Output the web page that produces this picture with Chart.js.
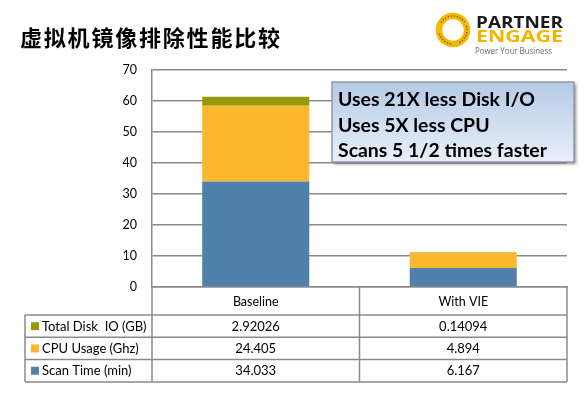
<!DOCTYPE html>
<html>
<head>
<meta charset="utf-8">
<script src="https://cdn.jsdelivr.net/npm/chart.js@4.4.1/dist/chart.umd.min.js"></script>
<style>
  html, body { margin: 0; padding: 0; background: #fff; }
  #wrap { width: 585px; height: 396px; position: relative; }
</style>
</head>
<body>
<div id="wrap"><canvas id="grafico" width="585" height="396"></canvas></div>
<script>
// dados do gráfico
const categorias = ['Baseline', 'With VIE'];
const scanTime = [34.033, 6.167];
const cpuUsage = [24.405, 4.894];
const diskIO = [2.92026, 0.14094];
const nomesSeries = ['Scan Time (min)', 'CPU Usage (Ghz)', 'Total Disk  IO (GB)'];
const coresSeries = ['#5081ab', '#fbb72e', '#979a08'];
const yMax = 70;
const yPasso = 10;
const titulo = '虚拟机镜像排除性能比较';
const notas = ['Uses 21X less Disk I/O', 'Uses 5X less CPU', 'Scans 5 1/2 times faster'];

const corLinha = '#8a8a8a';
const fonteLatina = 'Lato, "Open Sans", sans-serif';

// desenha título, logo, caixa de texto e tabela de dados
const extras = {
    id: 'extras',
    afterDraw(chart) {
        const ctx = chart.ctx;
        const area = chart.chartArea;
        const xs = chart.scales.x;

        // título
        ctx.save();
        ctx.fillStyle = '#000';
        ctx.font = 'bold 22px "Noto Sans CJK SC"';
        ctx.textBaseline = 'middle';
        ctx.textAlign = 'left';
        [...titulo].forEach((c, i) => ctx.fillText(c, 20 + i * 23.8, 38));
        ctx.restore();

        // logo
        ctx.save();
        ctx.strokeStyle = '#f5b800';
        ctx.lineWidth = 6.5;
        ctx.beginPath();
        ctx.arc(453, 30, 14, 0, Math.PI * 2);
        ctx.stroke();
        ctx.strokeStyle = '#6b5400';
        ctx.lineWidth = 1.2;
        ctx.setLineDash([1.5, 1.5]);
        [[-2.6, -0.6], [-0.3, 1.2], [1.7, 2.9]].forEach(([a, b]) => {
            ctx.beginPath();
            ctx.arc(453, 30, 14, a, b);
            ctx.stroke();
        });
        ctx.setLineDash([]);
        const ajusta = (txt, x, y, w, font, cor) => {
            ctx.font = font;
            ctx.fillStyle = cor;
            const m = ctx.measureText(txt).width;
            ctx.save();
            ctx.translate(x, y);
            ctx.scale(w / m, 1);
            ctx.fillText(txt, 0, 0);
            ctx.restore();
        };
        ctx.textBaseline = 'alphabetic';
        ctx.textAlign = 'left';
        ajusta('PARTNER', 476, 27.5, 87, 'bold 15.5px "Open Sans"', '#1a1a1a');
        ajusta('ENGAGE', 476, 42, 87, 'bold 15.5px "Open Sans"', '#f5b400');
        ajusta('Power Your Business', 475, 54, 77, '9px "Open Sans"', '#6e6e6e');
        ctx.restore();

        // caixa de texto
        const bx = 332, by = 82, bw = 242, bh = 80;
        ctx.save();
        ctx.shadowColor = 'rgba(0,0,0,0.45)';
        ctx.shadowOffsetX = 2;
        ctx.shadowOffsetY = 2;
        ctx.shadowBlur = 3;
        const grad = ctx.createLinearGradient(0, by, 0, by + bh);
        grad.addColorStop(0, '#b5cae6');
        grad.addColorStop(1, '#e8eff9');
        ctx.fillStyle = grad;
        ctx.fillRect(bx, by, bw, bh);
        ctx.restore();
        ctx.save();
        ctx.strokeStyle = '#8f9aa8';
        ctx.lineWidth = 1.5;
        ctx.strokeRect(bx, by, bw, bh);
        ctx.font = 'bold 20px ' + fonteLatina;
        const escala = 197 / ctx.measureText(notas[0]).width;
        ctx.font = 'bold ' + (20 * escala).toFixed(2) + 'px ' + fonteLatina;
        ctx.fillStyle = '#000';
        ctx.textBaseline = 'alphabetic';
        notas.forEach((t, i) => ctx.fillText(t, 338, 106 + i * 25.5));
        ctx.restore();

        // tabela de dados
        const meio = (xs.getPixelForValue(0) + xs.getPixelForValue(1)) / 2;
        const colunas = [area.left, meio, area.right];
        const esquerda = 25;
        const topoTab = area.bottom + 28;
        const altLinha = 22.3;
        const linhas = [2, 1, 0]; // ordem das linhas: disco, cpu, tempo
        const valores = [scanTime, cpuUsage, diskIO];
        const fundo = topoTab + altLinha * linhas.length;

        ctx.save();
        ctx.strokeStyle = corLinha;
        ctx.lineWidth = 1.5;
        ctx.beginPath();
        colunas.forEach(x => { ctx.moveTo(x, area.bottom); ctx.lineTo(x, fundo); });
        ctx.moveTo(esquerda, topoTab); ctx.lineTo(esquerda, fundo);
        for (let i = 0; i <= linhas.length; i++) {
            const y = topoTab + i * altLinha;
            ctx.moveTo(esquerda, y); ctx.lineTo(area.right, y);
        }
        ctx.stroke();

        ctx.textBaseline = 'middle';
        ctx.font = '13px ' + fonteLatina;
        linhas.forEach((s, i) => {
            const yc = topoTab + (i + 0.5) * altLinha;
            ctx.fillStyle = coresSeries[s];
            ctx.fillRect(31, yc - 4, 8, 8);
            ctx.fillStyle = '#000';
            ctx.textAlign = 'left';
            ctx.fillText(nomesSeries[s], 42, yc + 0.5);
            ctx.textAlign = 'center';
            categorias.forEach((c, j) => {
                ctx.fillText(String(valores[s][j]), xs.getPixelForValue(j), yc + 0.5);
            });
        });
        ctx.restore();
    }
};

const grafico = document.getElementById('grafico').getContext('2d');
new Chart(grafico, {
    type: 'bar',
    data: {
        labels: categorias,
        datasets: [
            { label: nomesSeries[0], data: scanTime, backgroundColor: coresSeries[0] },
            { label: nomesSeries[1], data: cpuUsage, backgroundColor: coresSeries[1] },
            { label: nomesSeries[2], data: diskIO, backgroundColor: coresSeries[2] }
        ]
    },
    options: {
        responsive: false,
        animation: false,
        events: [],
        layout: { padding: { top: 70, right: 18, left: 0, bottom: 0 } },
        datasets: { bar: { categoryPercentage: 0.516, barPercentage: 1, borderWidth: 0 } },
        plugins: { legend: { display: false }, tooltip: { enabled: false }, title: { display: false } },
        scales: {
            x: {
                stacked: true,
                grid: { display: false, drawTicks: false },
                border: { display: true, color: corLinha, width: 1.5 },
                ticks: { color: '#000', padding: 7, font: { family: fonteLatina, size: 12.5 } },
                afterFit: s => { s.height = 109; }
            },
            y: {
                stacked: true,
                min: 0,
                max: yMax,
                grid: { color: corLinha, lineWidth: 1.5, drawTicks: false },
                border: { display: true, color: corLinha, width: 1.5 },
                ticks: { stepSize: yPasso, color: '#000', padding: 15, font: { family: fonteLatina, size: 12.5 } },
                afterFit: s => { s.width = 152; }
            }
        }
    },
    plugins: [extras]
});
</script>
</body>
</html>
